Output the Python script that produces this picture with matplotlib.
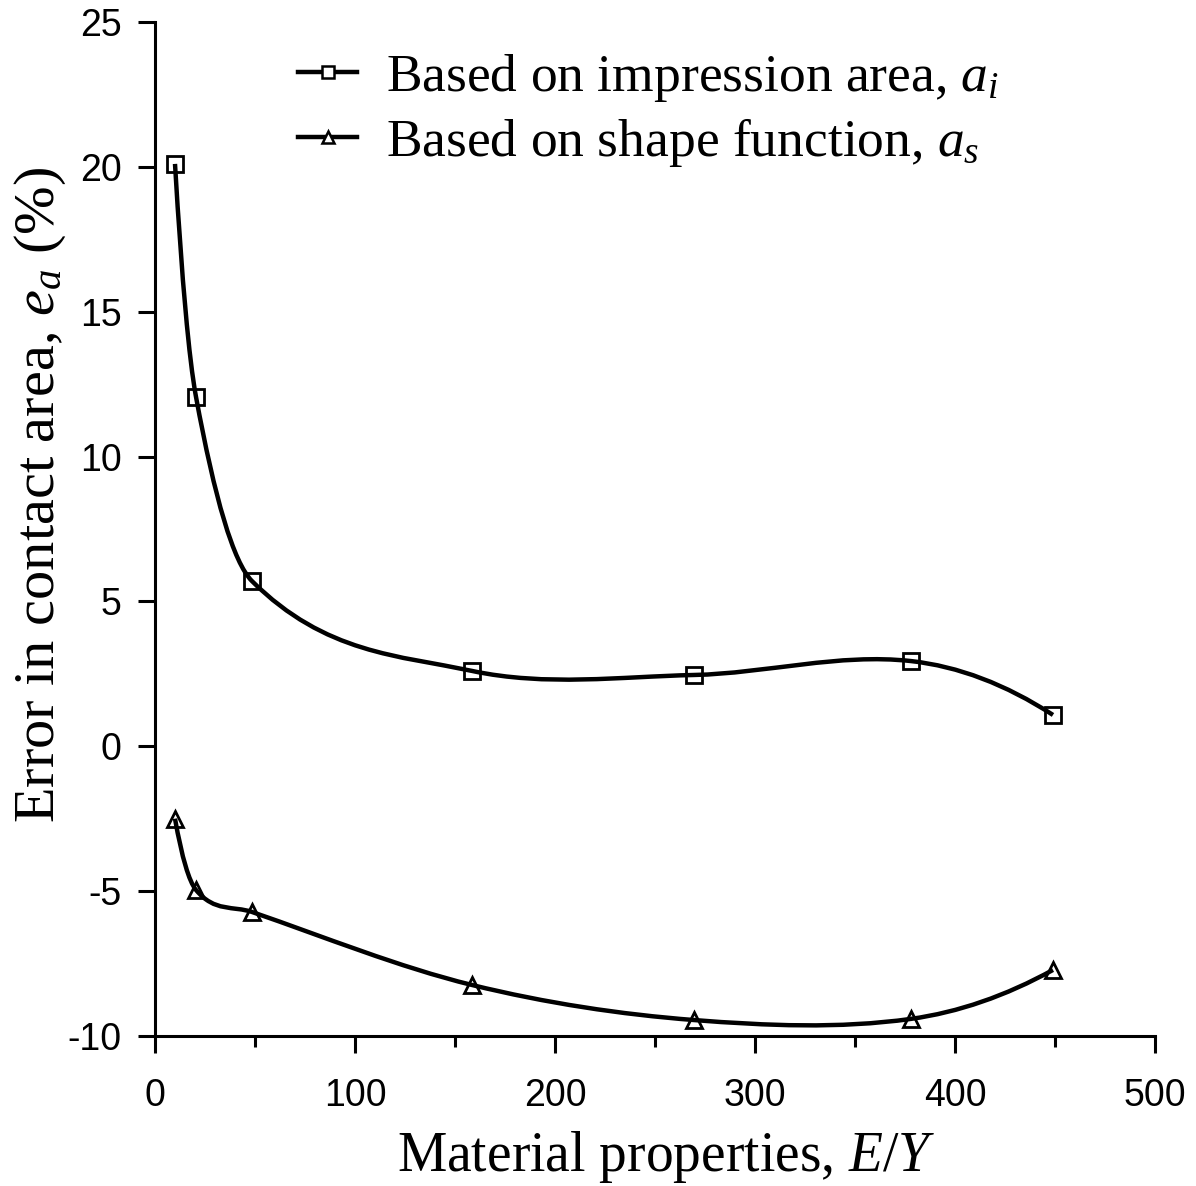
import numpy as np
import matplotlib
matplotlib.use("Agg")
import matplotlib.pyplot as plt
from matplotlib.path import Path
from matplotlib.patches import PathPatch
from matplotlib.ticker import MultipleLocator

plt.rcParams['font.family'] = ['Liberation Sans', 'DejaVu Sans']
plt.rcParams['mathtext.fontset'] = 'custom'
plt.rcParams['mathtext.rm'] = 'Liberation Serif'
plt.rcParams['mathtext.it'] = 'Liberation Serif:italic'
plt.rcParams['axes.unicode_minus'] = False

# data
ey = [10, 20.5, 48.5, 158.5, 269.5, 378, 449]
err_impression = [20.1, 12.06, 5.7, 2.6, 2.46, 2.94, 1.08]
err_shape = [-2.5, -4.96, -5.72, -8.24, -9.45, -9.41, -7.72]


def spline_path(x, y):
    # cardinal (finite difference) spline through the points, as bezier segments
    x = np.asarray(x, float)
    y = np.asarray(y, float)
    n = len(x)
    m = np.zeros(n)
    m[1:-1] = (y[2:] - y[:-2]) / (x[2:] - x[:-2])
    m[0] = 2 * (y[1] - y[0]) / (x[1] - x[0]) - m[1]
    m[-1] = 2 * (y[-1] - y[-2]) / (x[-1] - x[-2]) - m[-2]
    verts = [(x[0], y[0])]
    codes = [Path.MOVETO]
    for i in range(n - 1):
        h = x[i + 1] - x[i]
        verts += [(x[i] + h / 3, y[i] + m[i] * h / 3),
                  (x[i + 1] - h / 3, y[i + 1] - m[i + 1] * h / 3),
                  (x[i + 1], y[i + 1])]
        codes += [Path.CURVE4] * 3
    return Path(verts, codes)


fig = plt.figure(figsize=(11.96, 11.86), dpi=100)
ax = fig.add_axes([0.1296, 0.1265, 0.8361, 0.855])

for yv, mk, lab in [(err_impression, 's', r'Based on impression area, $a_i$'),
                    (err_shape, '^', r'Based on shape function, $a_s$')]:
    ax.add_patch(PathPatch(spline_path(ey, yv), facecolor='none',
                           edgecolor='black', lw=3.2, capstyle='butt'))
    ax.plot(ey, yv, linestyle='none', marker=mk, ms=11, mfc='none',
            mec='black', mew=2)
    # legend proxy
    ax.plot([], [], color='black', lw=3.2, marker=mk, ms=8, mfc='white',
            mec='black', mew=1.8, label=lab)

ax.set_xlim(0, 500)
ax.set_ylim(-10, 25)
ax.xaxis.set_major_locator(MultipleLocator(100))
ax.xaxis.set_minor_locator(MultipleLocator(50))
ax.yaxis.set_major_locator(MultipleLocator(5))

for s in ['top', 'right']:
    ax.spines[s].set_visible(False)
for s in ['left', 'bottom']:
    ax.spines[s].set_linewidth(2.2)

ax.tick_params(which='major', direction='out', length=12, width=2.2,
               labelsize=27)
ax.tick_params(axis='x', which='major', pad=18)
ax.tick_params(axis='y', which='major', pad=12)
ax.tick_params(which='minor', direction='out', length=8, width=2.2)

ax.set_xlabel(r'Material properties, $E/Y$', family='Liberation Serif',
              fontsize=40, labelpad=11)
ax.set_ylabel(r'Error in contact area, $e_a$ (%)', family='Liberation Serif',
              fontsize=42, labelpad=0)
ax.xaxis.label.set_x(0.511)
ax.yaxis.label.set_y(0.5335)

leg = ax.legend(loc='upper left', bbox_to_anchor=(0.095, 1.018), frameon=False,
                prop={'family': 'Liberation Serif', 'size': 38.5},
                handlelength=1.1, handletextpad=0.55, labelspacing=0.22)

fig.savefig("out.png", dpi=100)
